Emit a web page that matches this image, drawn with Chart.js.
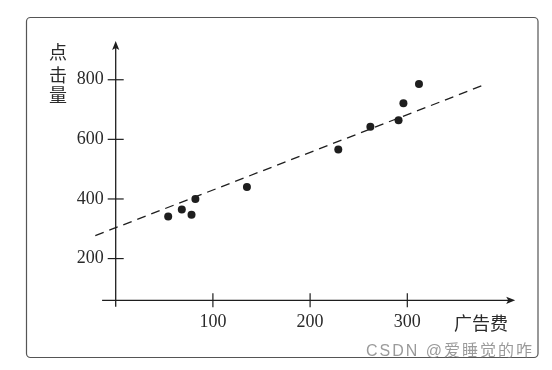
<!DOCTYPE html>
<html>
<head>
<meta charset="utf-8">
<script src="https://cdn.jsdelivr.net/npm/chart.js@4/dist/chart.umd.min.js"></script>
<style>
  html, body { margin: 0; padding: 0; background: #ffffff; }
  canvas { display: block; }
</style>
</head>
<body>
<canvas id="c" width="552" height="370"></canvas>
<script>
// ---- data ----
const adCost = [54, 68, 78, 82, 135, 229, 262, 291, 296, 312];        // 广告费
const clicks = [341, 365, 347, 400, 440, 566, 642, 664, 721, 786];    // 点击量
const fitLineX = [-21, 380];                                          // dashed trend line ends
const fitLineY = [277, 784];
const xTickValues = [100, 200, 300];
const yTickValues = [200, 400, 600, 800];
const xAxisTitle = '广告费';
const yAxisTitle = ['点', '击', '量'];
const watermark = 'CSDN @爱睡觉的咋';

// axis extents in data units
const X_MIN = 0, X_MAX = 411, X_LINE_START = -14;
const Y_MIN = 60, Y_MAX = 930, Y_LINE_START = 38;

const ink = '#1e1e1e';
const serif = '"Liberation Serif", "DejaVu Serif", serif';
const cjk = '"Noto Sans CJK SC", "Noto Sans", sans-serif';

const decor = {
  id: 'decor',
  beforeDraw(chart) {
    const ctx = chart.ctx;
    ctx.save();
    ctx.fillStyle = '#ffffff';
    ctx.fillRect(0, 0, chart.width, chart.height);
    ctx.strokeStyle = '#555555';
    ctx.lineWidth = 1.2;
    ctx.beginPath();
    ctx.roundRect(26.5, 17.5, 511.5, 340, 4);
    ctx.stroke();
    ctx.restore();
  },
  beforeDatasetsDraw(chart) {
    const ctx = chart.ctx;
    const xs = chart.scales.x, ys = chart.scales.y;
    const ax = xs.getPixelForValue(0);
    const ay = ys.getPixelForValue(Y_MIN);
    ctx.save();
    ctx.strokeStyle = ink;
    ctx.fillStyle = ink;
    ctx.lineWidth = 1.3;
    // x axis
    const xTip = xs.getPixelForValue(X_MAX);
    ctx.beginPath();
    ctx.moveTo(xs.getPixelForValue(X_LINE_START), ay);
    ctx.lineTo(xTip - 5, ay);
    ctx.stroke();
    ctx.beginPath();
    ctx.moveTo(xTip, ay);
    ctx.lineTo(xTip - 9, ay - 3.6);
    ctx.lineTo(xTip - 7, ay);
    ctx.lineTo(xTip - 9, ay + 3.6);
    ctx.closePath();
    ctx.fill();
    // y axis
    const yTip = ys.getPixelForValue(Y_MAX);
    ctx.beginPath();
    ctx.moveTo(ax, ys.getPixelForValue(Y_LINE_START));
    ctx.lineTo(ax, yTip + 5);
    ctx.stroke();
    ctx.beginPath();
    ctx.moveTo(ax, yTip);
    ctx.lineTo(ax - 3.6, yTip + 9);
    ctx.lineTo(ax, yTip + 7);
    ctx.lineTo(ax + 3.6, yTip + 9);
    ctx.closePath();
    ctx.fill();
    // tick marks crossing the axes
    ctx.lineWidth = 1.2;
    xTickValues.forEach(v => {
      const px = xs.getPixelForValue(v);
      ctx.beginPath();
      ctx.moveTo(px, ay - 7);
      ctx.lineTo(px, ay + 7);
      ctx.stroke();
    });
    yTickValues.forEach(v => {
      const py = ys.getPixelForValue(v);
      ctx.beginPath();
      ctx.moveTo(ax - 8, py);
      ctx.lineTo(ax + 8, py);
      ctx.stroke();
    });
    ctx.restore();
  },
  afterDraw(chart) {
    const ctx = chart.ctx;
    ctx.save();
    ctx.fillStyle = '#2a2a2a';
    ctx.font = '18px ' + cjk;
    ctx.textAlign = 'center';
    ctx.textBaseline = 'middle';
    ctx.fillText(xAxisTitle, 481, 323);
    const yc = [52, 75, 95];
    yAxisTitle.forEach((ch, i) => ctx.fillText(ch, 58, yc[i]));
    ctx.fillStyle = 'rgba(120,120,120,0.75)';
    ctx.font = '16px "Liberation Sans", "Noto Sans CJK SC", sans-serif';
    ctx.textAlign = 'left';
    if ('letterSpacing' in ctx) ctx.letterSpacing = '2px';
    ctx.fillText(watermark, 366, 352);
    ctx.restore();
  }
};

new Chart(document.getElementById('c'), {
  type: 'scatter',
  data: {
    datasets: [
      {
        data: adCost.map((x, i) => ({ x: x, y: clicks[i] })),
        pointRadius: 4,
        pointHoverRadius: 4,
        pointBackgroundColor: ink,
        pointBorderWidth: 0,
        clip: false
      },
      {
        data: fitLineX.map((x, i) => ({ x: x, y: fitLineY[i] })),
        showLine: true,
        borderColor: ink,
        borderWidth: 1.3,
        borderDash: [9, 6],
        pointRadius: 0,
        fill: false,
        clip: false
      }
    ]
  },
  options: {
    responsive: false,
    animation: false,
    events: [],
    layout: { padding: { left: 75.7, right: 36.8, top: 41, bottom: 19.7 } },
    plugins: { legend: { display: false }, tooltip: { enabled: false } },
    scales: {
      x: {
        type: 'linear',
        position: 'bottom',
        min: X_MIN,
        max: X_MAX,
        afterBuildTicks: s => { s.ticks = xTickValues.map(v => ({ value: v })); },
        afterFit: s => { s.height = 50; },
        grid: { display: false, drawTicks: false },
        border: { display: false },
        ticks: { padding: 11, color: '#2a2a2a', font: { family: serif, size: 18 }, maxRotation: 0, autoSkip: false }
      },
      y: {
        type: 'linear',
        position: 'left',
        min: Y_MIN,
        max: Y_MAX,
        afterBuildTicks: s => { s.ticks = yTickValues.map(v => ({ value: v })); },
        afterFit: s => { s.width = 40; },
        grid: { display: false, drawTicks: false },
        border: { display: false },
        ticks: { padding: 12, color: '#2a2a2a', font: { family: serif, size: 18 }, autoSkip: false }
      }
    }
  },
  plugins: [decor]
});
</script>
</body>
</html>
